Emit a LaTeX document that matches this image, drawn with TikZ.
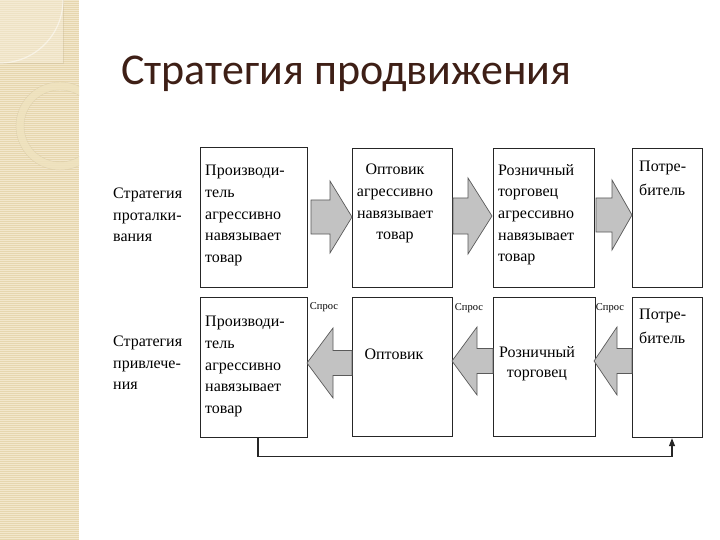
\documentclass[tikz,border=0pt]{standalone}
\usepackage{fontspec}
\setmainfont{Liberation Serif}
\newfontfamily\titlefont{Carlito}
\usetikzlibrary{calc,arrows.meta}
\definecolor{stripbg}{HTML}{F2E7CC}
\definecolor{stripln}{HTML}{E6D6AE}
\definecolor{striplight}{HTML}{F6EEDA}
\definecolor{ringcol}{HTML}{EFE3BF}
\definecolor{titlecol}{HTML}{3E1F16}
\definecolor{arrfill}{HTML}{C2C2C2}
\definecolor{arrline}{HTML}{5A5A5A}
\newcommand{\blkarrow}[6]{\filldraw[blk] (#1,#4-#5) -- (#2,#4-#5) -- (#2,#4-#6) -- (#3,#4) -- (#2,#4+#6) -- (#2,#4+#5) -- (#1,#4+#5) -- cycle;}
\tikzset{
  box/.style={draw=black!85, line width=1.2pt, fill=white, rectangle, inner sep=0pt, anchor=north west},
  txt/.style={inner sep=0pt, font=\fontsize{16}{21.7}\selectfont, align=left, anchor=north west},
  txtc/.style={inner sep=0pt, font=\fontsize{16}{21.7}\selectfont, align=center, anchor=north},
  lbl/.style={inner sep=0pt, font=\fontsize{16}{21.5}\selectfont, align=left, anchor=north west},
  dem/.style={inner sep=0pt, font=\fontsize{10.5}{12}\selectfont},
  blk/.style={fill=arrfill, draw=arrline, line width=0.7pt, line join=miter},
  fb/.style={draw=black!85, line width=1.2pt}
}
\begin{document}
\begin{tikzpicture}[x=1pt,y=-1pt]
\useasboundingbox (0,0) rectangle (720,540);
\fill[white] (0,0) rectangle (720,540);
% decorative strip
\fill[stripbg] (0,0) rectangle (79,540);
\foreach \yy in {1,3,...,539} \draw[stripln, line width=0.6pt] (0,\yy) -- (79,\yy);
\begin{scope}
  \clip (0,0) rectangle (79,540);
  \fill[striplight, opacity=0.5] (0,0) rectangle (63,63);
  \draw[stripln!85!black, line width=0.5pt, opacity=0.35] (63,0) -- (63,63) -- (0,63);
  \draw[white, line width=1.2pt, opacity=0.5] (63,0) arc[start angle=0, end angle=90, radius=63];
  \draw[ringcol, line width=8pt, opacity=0.8] (60,126) circle (40);
  \draw[stripln!85!black, line width=0.4pt, opacity=0.35] (60,126) circle (44) (60,126) circle (36);
\end{scope}
% title
\node[anchor=base west, inner sep=0pt, font=\titlefont\fontsize{44}{44}\selectfont, text=titlecol] (title) at (121,85) {Стратегия продвижения};
% left labels
\node[lbl] (push) at (113,188) {Стратегия\\проталки-\\вания};
\node[lbl] (pull) at (113,336) {Стратегия\\привлече-\\ния};
% top row boxes
\node[box, minimum width=107pt, minimum height=140pt] (b1) at (200,147) {};
\node[box, minimum width=100pt, minimum height=139pt] (b2) at (352,148) {};
\node[box, minimum width=101pt, minimum height=139pt] (b3) at (493,148) {};
\node[box, minimum width=70pt, minimum height=139pt] (b4) at (632,148) {};
% bottom row boxes
\node[box, minimum width=107pt, minimum height=140pt] (c1) at (200,297) {};
\node[box, minimum width=100pt, minimum height=139pt] (c2) at (352,297) {};
\node[box, minimum width=102pt, minimum height=139pt] (c3) at (493,297) {};
\node[box, minimum width=70pt, minimum height=140pt] (c4) at (632,297) {};
% top texts
\node[txt] (t1) at ($(b1.north west)+(5,18)$) {Производи-\\тель\\агрессивно\\навязывает\\товар};
\node[txtc] (t2) at (395,164) {Оптовик\\агрессивно\\навязывает\\товар};
\node[txt] (t3) at ($(b3.north west)+(5,16)$) {Розничный\\торговец\\агрессивно\\навязывает\\товар};
\node[txt, font=\fontsize{16}{24}\selectfont] (t4) at ($(b4.north west)+(7,13)$) {Потре-\\битель};
% bottom texts
\node[txt] (u1) at ($(c1.north west)+(5,19)$) {Производи-\\тель\\агрессивно\\навязывает\\товар};
\node[txtc] (u2) at (394,349) {Оптовик};
\node[txtc, font=\fontsize{16}{20.5}\selectfont] (u3) at (537,346) {Розничный\\торговец};
\node[txt, font=\fontsize{16}{24}\selectfont] (u4) at ($(c4.north west)+(7,12)$) {Потре-\\битель};
% block arrows top (right-pointing)
\blkarrow{311}{330}{352}{217}{17}{36}
\blkarrow{453}{468}{492}{216}{18}{38}
\blkarrow{596}{612}{632}{215}{17}{35}
% block arrows bottom (left-pointing)
\blkarrow{352}{333}{307}{363}{12.5}{35}
\blkarrow{493}{477}{452}{361}{12.5}{34}
\blkarrow{632}{617}{594}{361}{12.5}{34}
% demand labels
\node[dem] (d1) at (324,307) {Спрос};
\node[dem] (d2) at (469,308) {Спрос};
\node[dem] (d3) at (610,308) {Спрос};
% feedback connector
\coordinate (fa) at ($(c1.south west)+(58,0)$);
\coordinate (fb) at ($(c4.south west)+(40,0)$);
\draw[fb, -{Triangle[length=8pt,width=6pt]}] (fa) -- ($(fa)+(0,18)$) -- ($(fb)+(0,18)$) -- (fb);
\end{tikzpicture}
\end{document}
